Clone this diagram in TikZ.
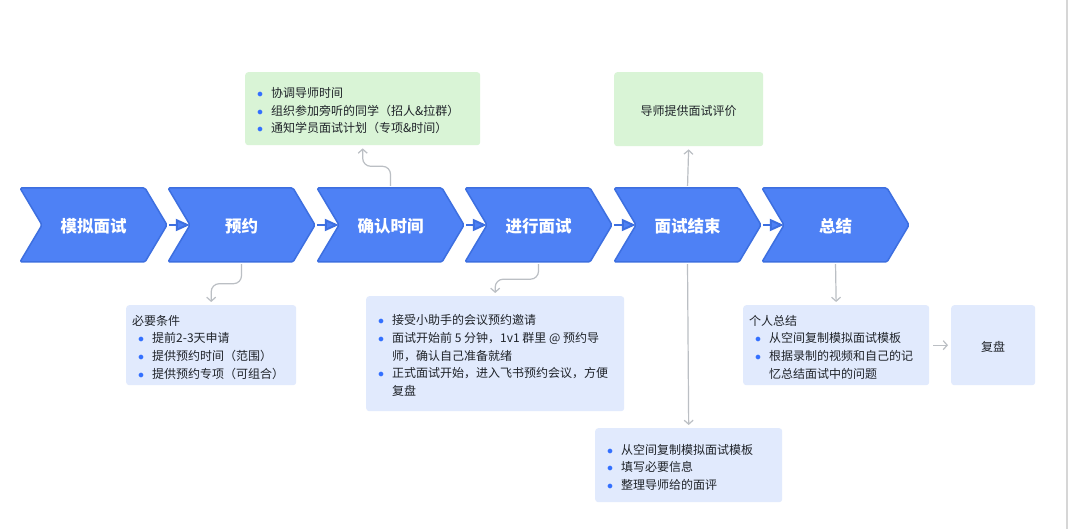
\documentclass[tikz,border=0pt]{standalone}
\usepackage{fontspec}
\setmainfont{Noto Sans CJK SC}
\usetikzlibrary{arrows.meta}
\definecolor{chev}{HTML}{4E81F5}
\definecolor{chevd}{HTML}{3D6FE0}
\definecolor{lblue}{HTML}{E1EAFD}
\definecolor{lgreen}{HTML}{D9F4D6}
\definecolor{bblue}{HTML}{3370FF}
\definecolor{txt}{HTML}{1F2329}
\definecolor{conncol}{HTML}{BBBFC4}
\definecolor{framecol}{HTML}{D6D6D6}
\newcommand\bitm{\hspace*{6pt}\makebox[14pt][l]{\textcolor{bblue}{$\bullet$}}}
\newcommand\bcont{\hspace*{20pt}}
\newcommand\lowered[2]{\raisebox{-#1}[\height][\depth]{#2}}
\newcommand\boxtext[2]{\lowered{2pt}{\parbox[c]{#1}{\raggedright\fontsize{12}{17.7}\selectfont #2}}}
\tikzset{
  chevshape/.style={fill=chev, draw=chevd, line width=1.5pt, line join=round, rounded corners=1.5pt},
  chevlabel/.style={minimum width=147pt, minimum height=74pt, inner sep=0pt, text=white, font=\fontsize{16.5}{20}\selectfont\bfseries},
  chevarrow/.style={draw=chevd, line width=2pt, -{Triangle[length=14pt,width=12pt,fill=chev]}, shorten <=2pt},
  infobox/.style={rounded corners=3pt, inner xsep=6pt, inner ysep=0pt, text=txt, font=\fontsize{12}{17.7}\selectfont, anchor=north west},
  conn/.style={draw=conncol, line width=1.2pt, -{Straight Barb[length=4pt,width=9pt]}, shorten <=2pt, shorten >=3pt, rounded corners=8pt}
}
\begin{document}
\begin{tikzpicture}[x=1pt,y=-1pt]
\useasboundingbox (0,0) rectangle (1080,529);
\fill[white] (0,0) rectangle (1080,529);
\draw[framecol, line width=1.5pt] (1067,0) -- (1067,529);

% chevrons
\foreach \i/\x/\t in {1/20/模拟面试, 2/168/预约, 3/317/确认时间, 4/465/进行面试, 5/614/面试结束, 6/762/总结}{
  \path[chevshape] (\x,188) -- (\x+125,188) -- (\x+147,225) -- (\x+125,262) -- (\x,262) -- (\x+22,225) -- cycle;
  \node[chevlabel] (c\i) at (\x+73.5,225) {\lowered{1.5pt}{\t}};
}
\foreach \a/\b in {1/2,2/3,3/4,4/5,5/6}{
  \draw[chevarrow] (c\a.east) -- ([xshift=22pt]c\b.west);
}

% boxes
\node[infobox, fill=lgreen, minimum width=235pt, minimum height=73pt] (g1) at (245,72)
  {\boxtext{223pt}{\bitm 协调导师时间\\ \bitm 组织参加旁听的同学（招人\&拉群）\\ \bitm 通知学员面试计划（专项\&时间）}};
\node[infobox, fill=lgreen, minimum width=149pt, minimum height=74pt] (g2) at (614,72)
  {\lowered{1.5pt}{导师提供面试评价}};
\node[infobox, fill=lblue, minimum width=170pt, minimum height=80pt] (b1) at (126,305)
  {\boxtext{158pt}{必要条件\\ \bitm 提前2-3天申请\\ \bitm 提供预约时间（范围）\\ \bitm 提供预约专项（可组合）}};
\node[infobox, fill=lblue, minimum width=258pt, minimum height=115pt] (b2) at (366,296)
  {\boxtext{246pt}{\bitm 接受小助手的会议预约邀请\\ \bitm 面试开始前 5 分钟，1v1 群里 @ 预约导\\ \bcont 师，确认自己准备就绪\\ \bitm 正式面试开始，进入飞书预约会议，方便\\ \bcont 复盘}};
\node[infobox, fill=lblue, minimum width=187pt, minimum height=74pt] (b3) at (595,428)
  {\boxtext{175pt}{\bitm 从空间复制模拟面试模板\\ \bitm 填写必要信息\\ \bitm 整理导师给的面评}};
\node[infobox, fill=lblue, minimum width=186pt, minimum height=80pt] (b4) at (743,305)
  {\boxtext{174pt}{个人总结\\ \bitm 从空间复制模拟面试模板\\ \bitm 根据录制的视频和自己的记\\ \bcont 忆总结面试中的问题}};
\node[infobox, fill=lblue, minimum width=84pt, minimum height=80pt] (fp) at (951,305)
  {\lowered{1.5pt}{复盘}};

% connectors
\draw[conn] (c3.north) -- ++(0,-21.5) -| (g1.south);
\draw[conn] (c2.south) -- ++(0,21.5) -| (b1.north);
\draw[conn] (c4.south) -- ++(0,17) -| (b2.north);
\draw[conn] (c5.north) -- (g2.south);
\draw[conn] (c5.south) -- (b3.north);
\draw[conn] (c6.south) -- (b4.north);
\draw[conn, shorten <=4pt] (b4.east) -- (fp.west);
\end{tikzpicture}
\end{document}
